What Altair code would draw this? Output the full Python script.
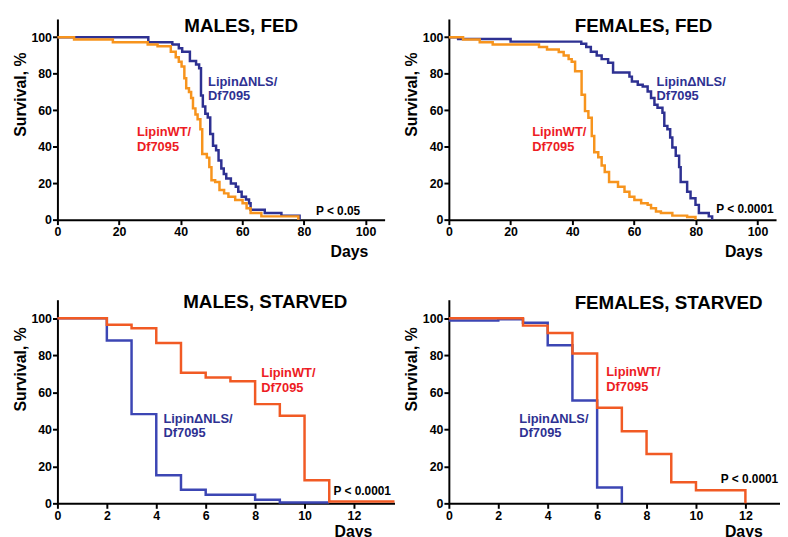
import altair as alt
import pandas as pd

FONT = "Liberation Sans"
BLUE_TOP = "#2e3192"
ORANGE_TOP = "#f7941d"
BLUE_BOT = "#3c46b4"
ORANGE_BOT = "#f15a24"
RED_TXT = "#ed1c24"
BLUE_TXT = "#2e3192"

# ---- MALES, FED ----
mf_nls_day = [0, 29.5, 37.3, 39.4, 40.5, 43, 45, 46, 46.6, 47.2, 48, 48.8, 49.6, 50.5, 51.5,
              52.3, 53.2, 54, 54.8, 56.3, 57.9, 58.7, 59.8, 61.2, 62.2, 62.7, 67.3, 72.7, 78.6]
mf_nls_surv = [100, 97.3, 96, 94, 92, 87, 85, 83, 68, 62, 58, 56, 47, 40.5, 38,
               32.4, 28, 25, 22.5, 19.8, 18, 15.3, 12.6, 11, 9, 5.4, 3.6, 2.2, 0]
mf_wt_day = [0, 5.4, 18, 29.3, 32.5, 36.8, 38.4, 39.4, 40.3, 41.2, 41.8, 42.7, 43.4, 44, 44.8,
             45.5, 46.4, 47, 48.5, 49.3, 50, 51.2, 52.6, 54.1, 55.5, 57.7, 60.1, 61.4, 62.7, 66.2, 78.2]
mf_wt_surv = [100, 98.7, 97.3, 96, 95, 92, 89, 86.5, 84, 77.5, 72, 70, 66.7, 61, 57.7,
              55, 49.5, 36, 34, 28.8, 21.6, 20.7, 16.2, 14.4, 12.6, 10.8, 9, 6.3, 3.6, 1.8, 0]

# ---- FEMALES, FED ----
ff_nls_day = [0, 3, 20, 42.9, 44.5, 46, 47.9, 49.5, 51.6, 53.2, 58.5, 59.3, 61.2, 62.8, 64.4, 65.5,
              66.6, 67.6, 69.2, 69.8, 70.8, 71.7, 72.4, 73.5, 74.6, 75.1, 77.2, 78.3, 79.9, 81, 84.2, 85.3]
ff_nls_surv = [100, 99, 97.6, 96.4, 94.6, 92, 90, 88, 86, 80.7, 78.4, 75.7, 73.9, 73, 70.3, 66.7,
               63, 61.3, 58.6, 51.4, 49.5, 45, 39.6, 35, 28.8, 20.7, 15.3, 11.7, 8.1, 3.6, 1.8, 0]
ff_wt_day = [0, 4.6, 10, 14.2, 29.2, 31.8, 35.6, 37.2, 38.8, 39.8, 40.9, 43, 44.1, 45.2, 46.3, 47.1,
             48.4, 49.5, 50.5, 51.9, 54.8, 56.9, 58.5, 60.1, 62.3, 64.4, 65.5, 67.1, 68.7, 72.4, 77.2, 79.9]
ff_wt_surv = [100, 98.7, 97.3, 96, 94.6, 93.3, 91.9, 90, 88, 86.5, 81.4, 68.5, 59.5, 55.9, 45.9, 36.9,
              34.2, 29.7, 26.1, 20.7, 18, 15.3, 12.6, 10.8, 9, 8.1, 6.3, 4.5, 3.6, 2.2, 1.4, 0]

# ---- MALES, STARVED ----
ms_wt_day = [0, 2, 3, 4, 5, 6, 7, 8, 9, 10, 11, 13.64]
ms_wt_surv = [100, 96.5, 94.6, 86.6, 70.5, 68, 66, 53.6, 47.3, 12.5, 1, 1]
ms_nls_day = [0, 2, 3, 4, 5, 6, 8, 9, 11]
ms_nls_surv = [100, 88, 48.2, 15.2, 7.3, 4.6, 2, 0.5, 0.5]

# ---- FEMALES, STARVED ----
fs_wt_day = [0, 3, 4, 5, 6, 7, 8, 9, 10, 12]
fs_wt_surv = [100, 96, 92, 81, 51.6, 39, 26.7, 11.4, 7.1, 0]
fs_nls_day = [0, 2, 3, 4, 5, 6, 7]
fs_nls_surv = [98.8, 99.5, 97.5, 85.4, 55.5, 8.5, 0]

Y_TICKS = [0, 20, 40, 60, 80, 100]
X_TICKS_FED = [0, 20, 40, 60, 80, 100]
X_TICKS_STARVED = list(range(0, 14))


def panel(nls, wt, blue, orange, xmax, xticks, width, height,
          notes, ytitle_y, days_x, days_y, even_only):
    xaxis = dict(values=xticks, title="Days", titleX=days_x, titleY=days_y,
                 titleAlign="right", titleBaseline="alphabetic", labelFlush=False,
                 labelOverlap=False)
    if even_only:
        xaxis["labelExpr"] = "datum.value % 2 == 0 ? datum.label : ''"
    x = alt.X("day:Q", scale=alt.Scale(domain=[0, xmax], nice=False, zero=True),
              axis=alt.Axis(**xaxis))
    y = alt.Y("surv:Q", scale=alt.Scale(domain=[0, 110], nice=False),
              axis=alt.Axis(values=Y_TICKS, title="Survival, %", titleX=-32.5, titleY=ytitle_y,
                            titleAlign="center", titleBaseline="alphabetic", titleAngle=270))
    d_nls = pd.DataFrame({"day": nls[0], "surv": nls[1]})
    d_wt = pd.DataFrame({"day": wt[0], "surv": wt[1]})
    l_nls = alt.Chart(d_nls).mark_line(interpolate="step-after", strokeWidth=2.5,
                                       color=blue).encode(x=x, y=y)
    l_wt = alt.Chart(d_wt).mark_line(interpolate="step-after", strokeWidth=2.5,
                                     color=orange).encode(x="day:Q", y="surv:Q")
    d_notes = pd.DataFrame(notes, columns=["day", "surv", "text", "c", "size"])
    t = alt.Chart(d_notes).mark_text(align="left", baseline="alphabetic", font=FONT,
                                     fontWeight="bold").encode(
        x="day:Q", y="surv:Q", text="text:N",
        color=alt.Color("c:N", scale=None),
        size=alt.Size("size:Q", scale=None))
    return alt.layer(l_nls, l_wt, t).properties(width=width, height=height)


NLS = "Lipin\u0394NLS/"
DF = "Df7095"
WT = "LipinWT/"
P05 = "P < 0.05"
P0001 = "P < 0.0001"

p1 = panel((mf_nls_day, mf_nls_surv), (mf_wt_day, mf_wt_surv),
           BLUE_TOP, ORANGE_TOP, 106.2, X_TICKS_FED, 331, 203,
           [[41.2, 102.7, "MALES, FED", "black", 19],
            [48.9, 73.4, NLS, BLUE_TXT, 13], [48.9, 65.8, DF, BLUE_TXT, 13],
            [25.8, 45.7, WT, RED_TXT, 13], [25.8, 37.6, DF, RED_TXT, 13],
            [83.9, 2.3, P05, "black", 12]],
           76, 314, 37.4, False)
p2 = panel((ff_nls_day, ff_nls_surv), (ff_wt_day, ff_wt_surv),
           BLUE_TOP, ORANGE_TOP, 106.0, X_TICKS_FED, 331, 203,
           [[40.8, 102.7, "FEMALES, FED", "black", 19],
            [67.3, 73.4, NLS, BLUE_TXT, 13], [67.3, 65.8, DF, BLUE_TXT, 13],
            [27.0, 45.7, WT, RED_TXT, 13], [27.0, 37.6, DF, RED_TXT, 13],
            [86.6, 3.6, P0001, "black", 12]],
           76, 317, 37.4, False)
p3 = panel((ms_nls_day, ms_nls_surv), (ms_wt_day, ms_wt_surv),
           BLUE_BOT, ORANGE_BOT, 13.64, X_TICKS_STARVED, 341, 206,
           [[5.09, 105.3, "MALES, STARVED", "black", 19],
            [8.25, 68.5, WT, RED_TXT, 13], [8.25, 60.1, DF, RED_TXT, 13],
            [4.29, 43.6, NLS, BLUE_TXT, 13], [4.29, 35.6, DF, BLUE_TXT, 13],
            [11.17, 4.7, P0001, "black", 12]],
           70, 318, 34, True)
p4 = panel((fs_nls_day, fs_nls_surv), (fs_wt_day, fs_wt_surv),
           BLUE_BOT, ORANGE_BOT, 13.4, X_TICKS_STARVED, 335, 206,
           [[5.09, 105.0, "FEMALES, STARVED", "black", 19],
            [6.37, 69.0, WT, RED_TXT, 13], [6.37, 60.5, DF, RED_TXT, 13],
            [2.85, 43.6, NLS, BLUE_TXT, 13], [2.85, 35.6, DF, BLUE_TXT, 13],
            [11.0, 10.8, P0001, "black", 12]],
           70, 317, 34, True)

chart = alt.concat(p1, p2, p3, p4, columns=2, bounds="flush", align="each",
                   spacing={"row": 81, "column": 55}).properties(
    padding={"left": 4, "top": 6, "right": 0, "bottom": 0}
).configure_view(stroke=None).configure_axis(
    domainColor="black", domainWidth=2, tickColor="black", tickWidth=2, tickSize=5,
    labelFont=FONT, labelFontWeight="bold", labelFontSize=12.5, labelColor="black",
    labelPadding=1, titleFont=FONT, titleFontWeight="bold", titleFontSize=16,
    titleColor="black", grid=False
)

chart.save("out.html", embed_options={"renderer": "svg", "actions": False})
